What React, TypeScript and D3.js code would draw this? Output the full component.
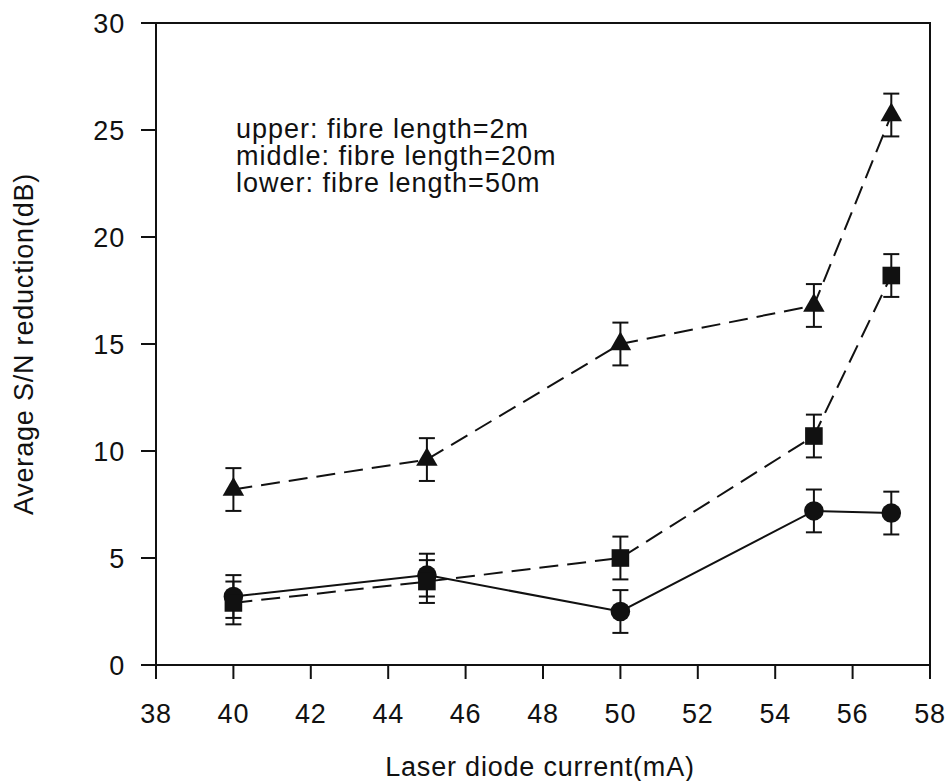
import React from "react";
import * as d3 from "d3";

// Laser diode current (mA)
const current = [40, 45, 50, 55, 57];

// Average S/N reduction (dB) for three fibre lengths
const upperValues = [8.2, 9.6, 15.0, 16.8, 25.7];
const middleValues = [2.9, 3.9, 5.0, 10.7, 18.2];
const lowerValues = [3.2, 4.2, 2.5, 7.2, 7.1];

// Half-height of error bars (dB)
const upperErr = [1, 1, 1, 1, 1];
const middleErr = [1, 1, 1, 1, 1];
const lowerErr = [1, 1, 1, 1, 1];

const xTicks = [38, 40, 42, 44, 46, 48, 50, 52, 54, 56, 58];
const yTicks = [0, 5, 10, 15, 20, 25, 30];

const legendLines = [
  "upper: fibre length=2m",
  "middle: fibre length=20m",
  "lower: fibre length=50m",
];

const W = 948;
const H = 781;
const FONT = "'Liberation Sans', Arial, Helvetica, sans-serif";
const INK = "#111";

const x = d3.scaleLinear().domain([38, 58]).range([156, 930]);
const y = d3.scaleLinear().domain([0, 30]).range([665, 23]);

type Series = {
  key: string;
  values: number[];
  err: number[];
  dashed: boolean;
  symbol: d3.SymbolType;
  size: number;
};

const series: Series[] = [
  { key: "lower", values: lowerValues, err: lowerErr, dashed: false, symbol: d3.symbolCircle, size: 300 },
  { key: "middle", values: middleValues, err: middleErr, dashed: true, symbol: d3.symbolSquare, size: 310 },
  { key: "upper", values: upperValues, err: upperErr, dashed: true, symbol: d3.symbolTriangle, size: 200 },
];

export default function App() {
  const line = d3
    .line<number>()
    .x((_, i) => x(current[i]))
    .y((v) => y(v));

  const [x0, x1] = x.range();
  const [yBottom, yTop] = y.range();
  const capHalf = 8;

  return (
    <svg
      width={W}
      height={H}
      style={{ position: "absolute", left: 0, top: 0, background: "#fff" }}
      fontFamily={FONT}
    >
      <rect x={0} y={0} width={W} height={H} fill="#fff" />

      {/* frame */}
      <rect
        x={x0}
        y={yTop}
        width={x1 - x0}
        height={yBottom - yTop}
        fill="none"
        stroke={INK}
        strokeWidth={2}
      />

      {/* x axis ticks */}
      {xTicks.map((t) => (
        <g key={`xt${t}`}>
          <line x1={x(t)} x2={x(t)} y1={yBottom} y2={yBottom + 14} stroke={INK} strokeWidth={2} />
          <text x={x(t)} y={723} textAnchor="middle" fontSize={27} fill={INK} letterSpacing={0.8}>
            {t}
          </text>
        </g>
      ))}

      {/* y axis ticks */}
      {yTicks.map((t) => (
        <g key={`yt${t}`}>
          <line x1={x0 - 15} x2={x0} y1={y(t)} y2={y(t)} stroke={INK} strokeWidth={2} />
          <text
            x={125}
            y={y(t)}
            dy="0.36em"
            textAnchor="end"
            fontSize={27}
            fill={INK}
            letterSpacing={0.8}
          >
            {t}
          </text>
        </g>
      ))}

      {/* axis titles */}
      <text x={540} y={776} textAnchor="middle" fontSize={27} fill={INK} letterSpacing={0.8}>
        Laser diode current(mA)
      </text>
      <text
        transform={`translate(33, ${(yTop + yBottom) / 2}) rotate(-90)`}
        textAnchor="middle"
        fontSize={27}
        fill={INK}
        letterSpacing={0.8}
      >
        Average S/N reduction(dB)
      </text>

      {/* annotation */}
      {legendLines.map((s, i) => (
        <text key={s} x={236} y={138 + i * 27} fontSize={27} fill={INK} letterSpacing={1}>
          {s}
        </text>
      ))}

      {/* series lines */}
      {series.map((s) => (
        <path
          key={`l${s.key}`}
          d={line(s.values) || ""}
          fill="none"
          stroke={INK}
          strokeWidth={2}
          strokeDasharray={s.dashed ? "19 9" : undefined}
        />
      ))}

      {/* error bars */}
      {series.map((s) =>
        s.values.map((v, i) => {
          const cx = x(current[i]);
          const top = y(v + s.err[i]);
          const bot = y(v - s.err[i]);
          return (
            <g key={`e${s.key}${i}`} stroke={INK} strokeWidth={2}>
              <line x1={cx} x2={cx} y1={top} y2={bot} />
              <line x1={cx - capHalf} x2={cx + capHalf} y1={top} y2={top} />
              <line x1={cx - capHalf} x2={cx + capHalf} y1={bot} y2={bot} />
            </g>
          );
        })
      )}

      {/* markers */}
      {series.map((s) =>
        s.values.map((v, i) => (
          <path
            key={`m${s.key}${i}`}
            d={d3.symbol().type(s.symbol).size(s.size)() || ""}
            transform={`translate(${x(current[i])}, ${y(v)})`}
            fill={INK}
          />
        ))
      )}
    </svg>
  );
}
